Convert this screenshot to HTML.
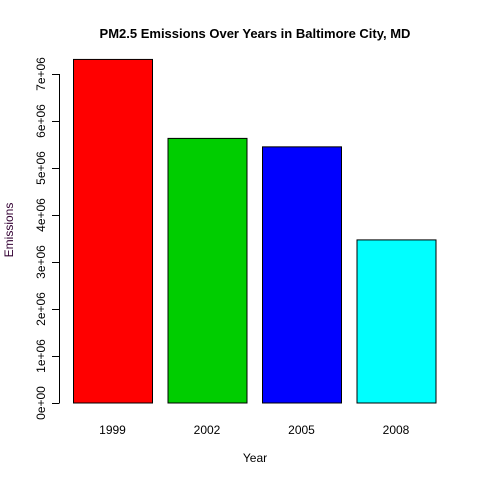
<!DOCTYPE html>
<html><head><style>body{margin:0;background:#fff}svg{display:block}</style></head>
<body>
<svg id="c" width="480" height="480" xmlns="http://www.w3.org/2000/svg" font-family="Liberation Sans, Arial, sans-serif">
<text x="255" y="38" text-anchor="middle" font-size="13" font-weight="bold">PM2.5 Emissions Over Years in Baltimore City, MD</text>
<text x="255" y="462" text-anchor="middle" font-size="12">Year</text>
<text transform="translate(13,230) rotate(-90)" text-anchor="middle" font-size="12" fill="#330033">Emissions</text>
<g id="bars"></g><g id="yaxis"></g><g id="xlabels"></g>
</svg>
<script>
const categories = ["1999","2002","2005","2008"];
const values = [7310000, 5630000, 5450000, 3470000];
const colors = ["#ff0000","#00cd00","#0000ff","#00ffff"];
const yTicks = [0,1e6,2e6,3e6,4e6,5e6,6e6,7e6];
const yTickLabels = ["0e+00","1e+06","2e+06","3e+06","4e+06","5e+06","6e+06","7e+06"];
const NS="http://www.w3.org/2000/svg";
function y(v){return 403 - v/1e6*47;}
function x(i){return 73 + i*94.5;}
const bw=79;
const bars=document.getElementById('bars'), ya=document.getElementById('yaxis'), xl=document.getElementById('xlabels');
values.forEach((v,i)=>{
  const r=document.createElementNS(NS,'rect');
  r.setAttribute('x',x(i)+0.5);r.setAttribute('y',y(v));r.setAttribute('width',bw);r.setAttribute('height',403-y(v));
  r.setAttribute('fill',colors[i]);r.setAttribute('stroke','#000');r.setAttribute('stroke-width','1');
  
  
  bars.appendChild(r);
  const t=document.createElementNS(NS,'text');
  t.setAttribute('x',x(i)+bw/2);t.setAttribute('y',434);t.setAttribute('text-anchor','middle');t.setAttribute('font-size','12');
  t.textContent=categories[i];
  
  
  xl.appendChild(t);
});
const ax=document.createElementNS(NS,'line');
ax.setAttribute('x1',59.5);ax.setAttribute('x2',59.5);ax.setAttribute('y1',y(yTicks[0]));ax.setAttribute('y2',y(yTicks[yTicks.length-1]));ax.setAttribute('stroke','#000');


ya.appendChild(ax);
yTicks.forEach((v,i)=>{
  const l=document.createElementNS(NS,'line');
  l.setAttribute('x1',52);l.setAttribute('x2',59.5);l.setAttribute('y1',Math.round(y(v))+0.5);l.setAttribute('y2',Math.round(y(v))+0.5);l.setAttribute('stroke','#000');
  
  
  ya.appendChild(l);
  const t=document.createElementNS(NS,'text');
  t.setAttribute('transform','translate(45,'+y(v)+') rotate(-90)');t.setAttribute('text-anchor','middle');t.setAttribute('font-size','12');
  t.textContent=yTickLabels[i];
  
  
  ya.appendChild(t);
});
</script>
</body></html>
